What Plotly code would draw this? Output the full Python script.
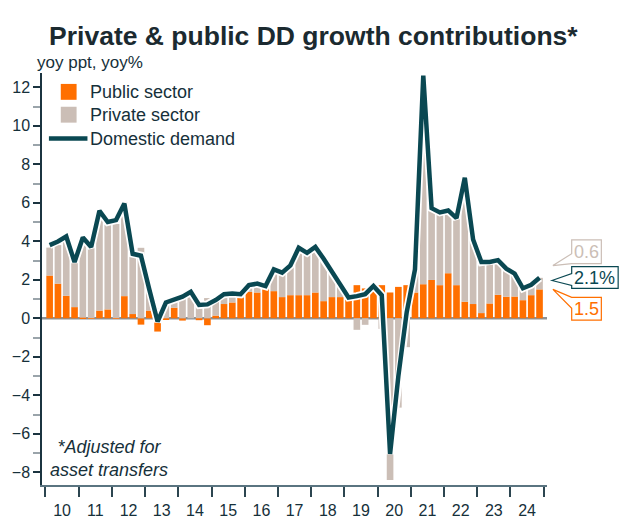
import plotly.graph_objects as go

# ---------------- data (quarterly, 2010Q1 .. 2024Q4) ----------------
years = ["10", "11", "12", "13", "14", "15", "16", "17", "18", "19", "20", "21", "22", "23", "24"]

public = [2.22, 1.80, 1.17, 0.58, 0.03, -0.03, 0.40, 0.46, -0.03, 1.15, 0.22, -0.33,
          0.40, -0.69, -0.09, 0.55, -0.12, 0.00, -0.10, -0.36, 0.14, 0.74, 0.82, 1.07,
          1.37, 1.34, 1.51, 1.41, 1.10, 1.20, 1.20, 1.20, 1.34, 0.89, 1.10, 1.10,
          0.95, 1.72, 1.55, 1.40, 1.72, 1.34, 1.63, 1.72, 1.34, 1.77, 1.99, 1.72,
          2.34, 1.72, 0.86, 0.74, 0.27, 0.77, 1.22, 1.12, 1.13, 0.94, 1.20, 1.50]

private = [1.45, 2.00, 3.00, 2.30, 4.00, 3.70, 5.10, 4.40, 4.90, 4.85, 3.10, 3.66,
           1.10, 0.50, 0.90, 0.40, 1.20, 1.30, 0.80, 1.05, 0.80, 0.50, 0.45, 0.20,
           0.30, 0.45, 0.15, 1.10, 1.25, 1.55, 2.45, 2.20, 2.35, 2.20, 1.30, 0.60,
           0.13, -0.60, -0.34, 0.28, -0.55, -8.40, -4.64, -1.50, 1.20, 10.80, 3.70, 3.75,
           3.25, 3.45, 5.35, 3.30, 2.60, 2.10, 1.75, 1.45, 1.15, 0.60, 0.55, 0.60]

domestic = [3.80, 3.99, 4.25, 2.92, 4.20, 3.70, 5.58, 5.00, 5.10, 5.96, 3.35, 3.25,
            1.50, -0.17, 0.82, 0.95, 1.12, 1.37, 0.69, 0.72, 0.95, 1.25, 1.29, 1.25,
            1.72, 1.80, 1.67, 2.54, 2.37, 2.75, 3.66, 3.40, 3.71, 3.09, 2.40, 1.72,
            1.08, 1.15, 1.25, 1.68, 1.20, -7.05, -3.00, 0.31, 2.54, 12.60, 5.72, 5.50,
            5.60, 5.20, 7.30, 4.09, 2.92, 2.92, 3.02, 2.58, 2.32, 1.56, 1.74, 2.10]

series_names = ["Public sector", "Private sector", "Domestic demand"]

quarters = list(range(len(domestic)))

C_PUB = "#FF6F00"
C_PRIV = "#CBBEB6"
C_DD = "#0A4852"
C_TXT = "#16303A"
FONT = "Liberation Sans, Arial, sans-serif"

fig = go.Figure()
fig.add_trace(go.Bar(x=quarters, y=public, name=series_names[0],
                     marker=dict(color=C_PUB, line=dict(width=0))))
fig.add_trace(go.Bar(x=quarters, y=private, name=series_names[1],
                     marker=dict(color=C_PRIV, line=dict(width=0))))
fig.add_trace(go.Scatter(x=quarters, y=domestic, mode="lines",
                         line=dict(color="white", width=8), hoverinfo="skip"))
fig.add_trace(go.Scatter(x=quarters, y=domestic, mode="lines", name=series_names[2],
                         line=dict(color=C_DD, width=4.5)))

# geometry helpers (paper coords)
L, R, T, B = 36, 76, 73, 43
W, H = 623, 531
PW, PH = W - L - R, H - T - B


def px(x):
    return (x - L) / PW


def py(y):
    return (H - B - y) / PH


def path(points):
    return "M " + " L ".join(f"{px(a):.4f},{py(b):.4f}" for a, b in points) + " Z"


shapes = [
    dict(type="line", xref="paper", yref="y", x0=0, x1=1, y0=0, y1=0,
         line=dict(color="#8C9296", width=2.5), layer="below"),
    # legend symbols
    dict(type="rect", xref="paper", yref="paper", x0=px(55), x1=px(71), y0=py(84), y1=py(100),
         fillcolor=C_PUB, line=dict(width=0)),
    dict(type="rect", xref="paper", yref="paper", x0=px(55), x1=px(71), y0=py(107), y1=py(123),
         fillcolor=C_PRIV, line=dict(width=0)),
    dict(type="line", xref="paper", yref="paper", x0=px(43), x1=px(82), y0=py(139), y1=py(139),
         line=dict(color=C_DD, width=4.5)),
    # callouts
    dict(type="path", xref="paper", yref="paper",
         path=path([(553, 267), (572, 265), (602, 265), (602, 241), (572, 241), (572, 255)]),
         line=dict(color=C_PRIV, width=1.2), fillcolor="white"),
    dict(type="path", xref="paper", yref="paper",
         path=path([(552, 282), (572, 275), (572, 268), (619, 268), (619, 290), (572, 290), (572, 287)]),
         line=dict(color=C_DD, width=1.2), fillcolor="white"),
    dict(type="path", xref="paper", yref="paper",
         path=path([(553, 291), (572, 299), (602, 299), (602, 322), (572, 322), (572, 310)]),
         line=dict(color=C_PUB, width=1.2), fillcolor="white"),
]


def label(x, y, text, size, color, xanchor="center"):
    return dict(xref="paper", yref="paper", x=px(x), y=py(y), text=text, showarrow=False,
                xanchor=xanchor, yanchor="middle", align="center",
                font=dict(family=FONT, size=size, color=color))


annotations = [
    label(587, 253, f"{private[-1]:.1f}", 18, C_PRIV),
    label(595.5, 279, f"{domestic[-1]:.1f}%", 18, C_DD),
    label(587, 311, f"{public[-1]:.1f}", 18, C_PUB),
    label(104, 461, "<i>*Adjusted for<br>asset transfers</i>", 18, C_TXT),
    label(29, 62, "yoy ppt, yoy%", 17, C_TXT, xanchor="left"),
    label(83, 92, series_names[0], 18, C_TXT, xanchor="left"),
    label(83, 115, series_names[1], 18, C_TXT, xanchor="left"),
    label(83, 139, series_names[2], 18, C_TXT, xanchor="left"),
]

fig.update_layout(
    width=W, height=H,
    margin=dict(l=L, r=R, t=T, b=B),
    paper_bgcolor="white", plot_bgcolor="white",
    barmode="relative", bargap=0.2,
    title=dict(text="<b>Private & public DD growth contributions*</b>", x=0.503, xref="container",
               xanchor="center", y=1 - 36 / H, yanchor="middle",
               font=dict(family=FONT, size=26.5, color="#1B2A30")),
    font=dict(family=FONT, size=16, color=C_TXT),
    showlegend=False,
    shapes=shapes, annotations=annotations,
)

fig.update_xaxes(
    range=[-0.92, 59.9], showgrid=False, zeroline=False,
    tickvals=[1.5 + 4 * k for k in range(len(years))], ticktext=years,
    ticks="outside", ticklen=10, tickcolor="rgba(0,0,0,0)",
    minor=dict(tickvals=[-0.5 + 4 * k for k in range(len(years) + 1)], ticks="outside",
               ticklen=10, tickwidth=2, tickcolor="#2C4550"),
    showline=True, linecolor="#5A7480", linewidth=2,
    tickfont=dict(family=FONT, size=16, color=C_TXT),
)
fig.update_yaxes(
    range=[-8.66, 12.74], showgrid=False, zeroline=False,
    tickvals=list(range(-8, 13, 2)),
    ticks="outside", ticklen=7, tickwidth=1.5, tickcolor="#1B3440",
    minor=dict(dtick=1, ticks="outside", ticklen=7, tickwidth=2, tickcolor="#9AA4AA"),
    showline=True, linecolor="#1B3440", linewidth=1.5,
    tickfont=dict(family=FONT, size=16, color=C_TXT),
)

fig.write_html("out.html")
